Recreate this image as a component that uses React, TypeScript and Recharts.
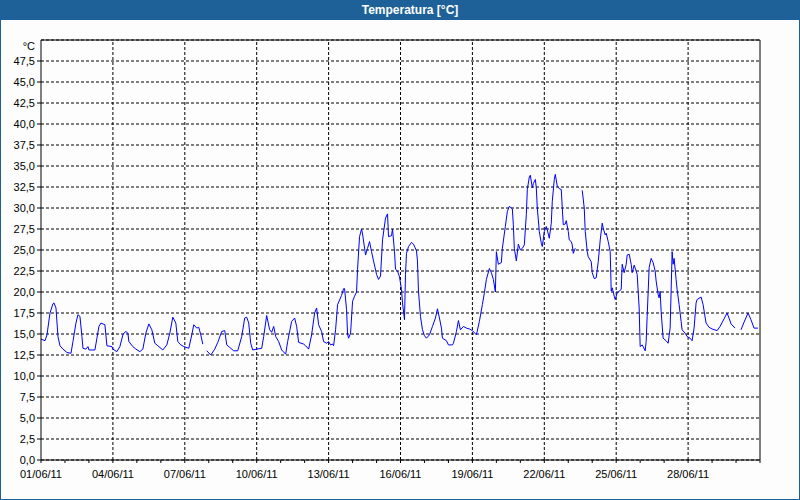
import { LineChart, Line, XAxis, YAxis, CartesianGrid, ReferenceLine } from "recharts"

// hours since 01/06/11 00:00, null = gap in the record
const hours = [
  0, 4, 6, 9, 12, 13, 15, 17, 19, 22, 26, 30, 32, 35, 37, 39, 41, 42, 45, 47, 48, 52, 54, 56, 58, 60, 64, 66, 71,
  72, 76, 79, 82, 83, 85, 87, 88, 92, 95, 99, 102, 105, 108, 111, 114, 117, 122, 126, 129, 132, 135, 137, 140, 143,
  148, 151, 153, 156, 158, 160, 162, 164, 166, 170, 174, 177, 181, 184, 186, 189, 193, 197, 201, 204, 206, 208, 210,
  212, 216, 221, 223, 226, 229, 231, 233, 235, 238, 241, 245, 247, 251, 254, 256, 258, 263, 265, 268, 271, 274, 276,
  278, 281, 283, 286, 288, 290, 292, 293, 295, 297, 301, 303, 304, 306, 307, 308, 310, 312, 314, 316, 317, 319, 321,
  322, 325, 327, 329, 331, 333, 336, 338, 340, 342, 345, 347, 348, 351, 352, 354, 355, 357, 359, 361, 362, 364, 365,
  366, 368, 371, 373, 376, 377, 378, 380, 382, 384, 386, 389, 392, 395, 397, 399, 401, 402, 406, 408, 412, 413, 416,
  418, 420, 423, 426, 429, 432, 436, 439, 442, 444, 446, 449, 451, 453, 455, 456, 458, 461, 462, 465, 467, 469, 472,
  473, 474, 476, 478, 480, 482, 484, 486, 487, 489, 490, 492, 493, 495, 496, 497, 499, 501, 502, 504, 506, 507, 509,
  511, 512, 514, 515, 517, 519, 521, 522, 523, 525, 526, 528, 529, 531, 532, 533, 535, 538, 542, 544, 545, 547, 548,
  551, 552, 554, 556, 558, 560, 562, 563, 565, 566, 568, 570, 571, 572, 574, 575, 577, 579, 581, 582, 584, 586, 587,
  589, 591, 592, 594, 596, 597, 599, 600, 602, 603, 605, 606, 607, 609, 611, 613, 615, 616, 618, 619, 620, 621, 623,
  626, 628, 630, 631, 632, 633, 634, 636, 637, 639, 641, 642, 645, 647, 650, 652, 654, 656, 657, 661, 663, 666, 669,
  672, 677, 680, 684, 687, 689, 691, 695, 698, 701, 704, 708, 711, 714, 718,
]

const temps = [
  14.4, 14.2, 14.9, 17.5, 18.6, 18.7, 18.1, 14.7, 13.6, 13.2, 12.8, 12.7, 14.1, 16.3, 17.3, 17.1, 14.7, 13.3, 13.2,
  13.5, 13.1, 13.1, 13.1, 14.5, 15.9, 16.3, 16.1, 13.6, 13.5,
  13.2, 12.9, 13.5, 14.9, 15.1, 15.3, 15.1, 14.1, 13.5, 13.2, 12.9, 13.2, 15.1, 16.2, 15.5, 13.9, 13.6, 13.1, 13.7,
  15.1, 17.0, 16.3, 14.1, 13.7, 13.5,
  13.3, 14.9, 16.1, 15.7, 15.8, 14.9, 13.8, null, 13.0, 12.5, 13.2, 14.0, 15.3, 15.4, 13.7, 13.4, 13.0, 13.0, 14.7,
  16.9, 17.0, 16.3, 13.9,
  13.1, 13.2, 13.3, 14.7, 17.2, 15.5, 15.2, 15.9, 14.7, 14.1, 13.1, 12.6, 14.1, 16.5, 16.9, 15.9, 14.0, 13.8, 13.6,
  13.2, 14.9, 17.5, 18.1,
  16.1, 15.3, 14.1, 13.9, 14.1, 13.7, 13.8, 13.6, 15.5, 18.5, 19.6, 20.4, 20.4, 17.9, 15.0, 14.5, 15.1, 18.9, 19.5,
  20.0, 22.7, 26.6, 27.5,
  26.9, 24.4, 25.2, 26.0, 24.8, 23.7, 22.1, 21.5, 21.9, 26.2, 28.8, 29.3, 26.6, 26.7, 27.5, 24.8, 22.7, 22.5, 21.8,
  20.3, 18.7, 16.7, 22.1,
  24.6, 25.4, 25.9, 25.7, 24.9, 23.7, 20.1, 17.1, 15.5, 14.8, 14.5, 14.9, 15.9, 16.9, 18.0, 16.9, 15.7, 14.5, 14.2,
  13.7, 13.7, 13.9, 15.3,
  16.6, 15.5, 15.9, 15.7, 15.6, 15.4, 14.9, 16.5, 18.5, 19.9, 21.5, 22.8, 22.3, 21.5, 20.0, 24.8, 23.3, 23.5, 25.2,
  27.8, 29.6, 30.2, 29.9,
  28.0, 25.2, 23.7, 25.7, 25.0, 25.2, 25.6, 29.2, 32.2, 33.7, 33.9, 32.4, 32.9, 33.4, 32.4, 30.0, 27.2, 25.8, 25.4,
  27.2, 27.8, 27.4, 26.4,
  28.2, 30.8, 33.4, 34.0, 32.6, 32.3, 32.2, 30.0, 28.0, 28.1, 28.5, 27.2, 26.2, 26.0, 25.6, 24.6, 25.2, null, 32.1,
  30.0, 27.2, 24.8, 24.2,
  23.6, 22.3, 21.6, 21.7, 23.6, 26.2, 28.2, 27.6, 26.8, 27.0, 26.0, 24.8, 20.1, 20.5, 19.5, 19.1, 19.9, 20.1, 20.3,
  23.3, 22.3, 23.3, 24.4,
  24.5, 23.3, 22.3, 23.2, 22.5, 22.1, 18.1, 13.5, 13.7, 13.5, 13.0, 14.1, 17.1, 22.9, 24.0, 23.5, 22.5, 21.3, 19.7,
  19.3, 20.1, 17.7, 14.5,
  14.2, 13.9, 15.7, 20.1, 24.8, 23.3, 24.0, 21.5, 20.3, 18.5, 16.5, 15.5, 15.1, 14.7, 14.5, 14.2, 15.7, 18.7, 19.1,
  19.4, 18.5, 16.3, 15.8,
  15.6, 15.4, 15.9, 16.8, 17.5, 16.9, 16.2, 15.7, null, 15.5, 16.4, 17.5, 16.7, 15.7, 15.7,
]

const yTicks = [0, 2.5, 5, 7.5, 10, 12.5, 15, 17.5, 20, 22.5, 25, 27.5, 30, 32.5, 35, 37.5, 40, 42.5, 45, 47.5, 50]
const dayTicks = [
  0, 24, 48, 72, 96, 120, 144, 168, 192, 216, 240, 264, 288, 312, 336, 360, 384, 408, 432, 456, 480, 504, 528, 552,
  576, 600, 624, 648, 672, 696, 720,
]
const gridHours = [72, 144, 216, 288, 360, 432, 504, 576, 648]

const data = hours.map((h, i) => ({ h, t: temps[i] }))

const FONT = "'Liberation Sans', Arial, sans-serif"

function xLabel(v: number) {
  if (v % 72 !== 0 || v >= 720) return ""
  const d = v / 24 + 1
  return `${d < 10 ? "0" + d : d}/06/11`
}

function YTick(props: any) {
  const { x, y, payload } = props
  const v = payload.value as number
  if (v === 50) {
    return (
      <text x={x} y={y + 6} dy={4} textAnchor="end" fontSize={11} fontFamily={FONT} fill="#000">
        °C
      </text>
    )
  }
  return (
    <g>
      <line x1={x + 2} x2={x + 6} y1={y} y2={y} stroke="#000" />
      <text x={x} y={y} dy={4} textAnchor="end" fontSize={11} fontFamily={FONT} fill="#000">
        {v.toFixed(1).replace(".", ",")}
      </text>
    </g>
  )
}

export default function App() {
  return (
    <div style={{ position: "absolute", left: 0, top: 0, width: 800, height: 500, background: "#fcfdfc" }}>
      <LineChart width={800} height={500} data={data} margin={{ top: 40, right: 40, bottom: 0, left: 0 }}>
        <CartesianGrid vertical={false} stroke="#000" strokeDasharray="3 2" />
        {gridHours.map((g) => (
          <ReferenceLine key={g} x={g} stroke="#000" strokeDasharray="3 2" />
        ))}
        <ReferenceLine y={50} stroke="#000" />
        <ReferenceLine x={720} stroke="#000" />
        <XAxis
          dataKey="h"
          type="number"
          domain={[0, 720]}
          ticks={dayTicks}
          interval={0}
          height={40}
          tickSize={3}
          tickMargin={7}
          tickFormatter={xLabel}
          axisLine={{ stroke: "#000" }}
          tickLine={{ stroke: "#000" }}
          tick={{ fontSize: 11, fontFamily: FONT, fill: "#000" }}
          allowDataOverflow
        />
        <YAxis
          type="number"
          domain={[0, 50]}
          ticks={yTicks}
          interval={0}
          width={41}
          tickSize={4}
          tickMargin={2}
          axisLine={{ stroke: "#000" }}
          tickLine={false}
          tick={<YTick />}
        />
        <Line
          dataKey="t"
          type="linear"
          stroke="#0000ff"
          strokeWidth={1}
          dot={false}
          connectNulls={false}
          isAnimationActive={false}
        />
      </LineChart>
      <div
        style={{
          position: "absolute",
          left: 0,
          top: 0,
          width: 800,
          height: 20,
          background: "#1e6199",
          color: "#fff",
          fontFamily: FONT,
          fontWeight: "bold",
          fontSize: 12,
          lineHeight: "20px",
          textAlign: "center",
          paddingLeft: 20,
          boxSizing: "border-box",
        }}
      >
        Temperatura [°C]
      </div>
      <div
        style={{
          position: "absolute",
          inset: 0,
          border: "1px solid #1e6199",
          pointerEvents: "none",
        }}
      />
    </div>
  )
}
